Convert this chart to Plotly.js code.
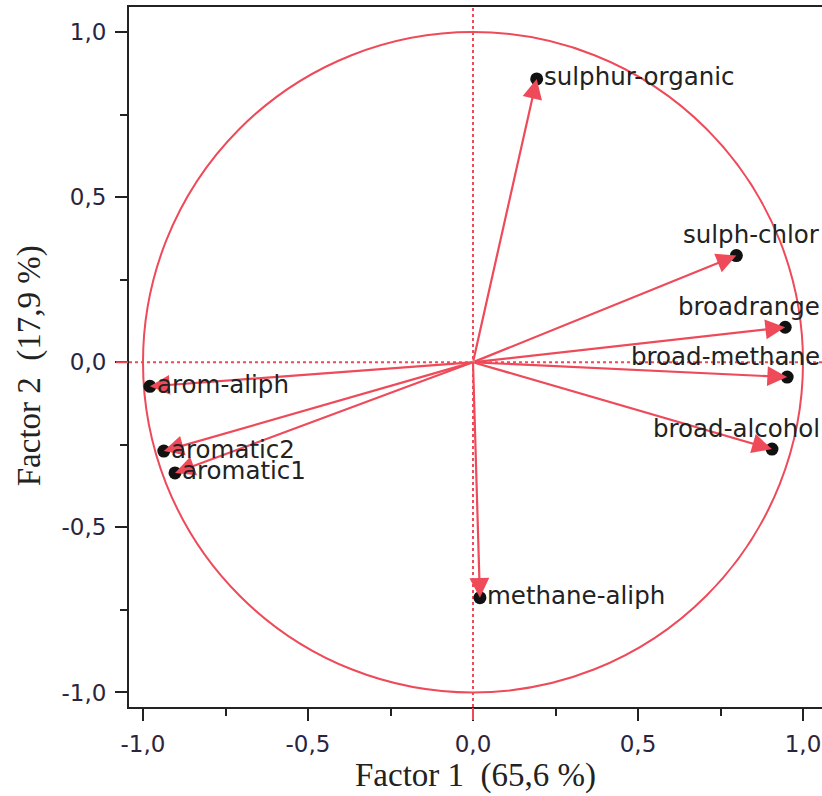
<!DOCTYPE html>
<html>
<head>
<meta charset="utf-8">
<script src="https://cdn.plot.ly/plotly-3.0.1.min.js"></script>
<style>
  html, body { margin: 0; padding: 0; background: #fff; }
  #chart { width: 822px; height: 796px; }
</style>
</head>
<body>
<div id="chart"></div>
<script>
// Correlation loadings of each variable on the first two factors
const variables = ['sulphur-organic', 'sulph-chlor', 'broadrange', 'broad-methane',
                   'broad-alcohol', 'methane-aliph', 'arom-aliph', 'aromatic2', 'aromatic1'];
const factor1 = [0.193, 0.798, 0.946, 0.952, 0.906, 0.021, -0.979, -0.937, -0.903];
const factor2 = [0.858, 0.323, 0.106, -0.045, -0.263, -0.713, -0.073, -0.269, -0.335];

const tickValues = [-1, -0.5, 0, 0.5, 1];
const tickLabels = ['-1,0', '-0,5', '0,0', '0,5', '1,0'];

const xTitle = 'Factor 1\u00a0\u00a0(65,6 %)';
const yTitle = 'Factor 2\u00a0\u00a0(17,9 %)';

// Labels close to the right frame are right-aligned to it and lifted above the point
const rightAligned = new Set(['sulph-chlor', 'broadrange', 'broad-methane', 'broad-alcohol']);

const RED = '#ee4a5a';
const INK = '#222';
const labelFont = { family: 'DejaVu Sans', size: 24.5, color: INK };
const tickFont = { family: 'DejaVu Sans', size: 23, color: '#2a2440' };
const titleFont = { family: 'Liberation Serif', size: 33, color: INK };

// Black dots at the loading positions
const dots = {
  type: 'scatter', mode: 'markers',
  x: factor1, y: factor2,
  marker: { color: '#111', size: 13 },
  hoverinfo: 'text', text: variables,
  cliponaxis: false, showlegend: false
};

// Arrows from the origin to each loading
const arrows = variables.map((name, i) => ({
  x: factor1[i], y: factor2[i], xref: 'x', yref: 'y',
  ax: 0, ay: 0, axref: 'x', ayref: 'y',
  text: '', showarrow: true,
  arrowhead: 2, arrowsize: 1.8, arrowwidth: 2.2, arrowcolor: RED,
  standoff: 0, startstandoff: 0
}));

// Variable names
const labels = variables.map((name, i) => rightAligned.has(name)
  ? { text: name, xref: 'paper', x: 1, xanchor: 'right', yref: 'y', y: factor2[i],
      yanchor: 'middle', yshift: 21, showarrow: false, font: labelFont }
  : { text: name, xref: 'x', x: factor1[i], xanchor: 'left', xshift: 5, yref: 'y',
      y: factor2[i], yanchor: 'middle', yshift: 2, showarrow: false, font: labelFont });

// Vertical axis title, centred a little below the middle of the frame
const yTitleNote = {
  text: yTitle, textangle: -90, font: titleFont, showarrow: false,
  xref: 'paper', x: 0, xanchor: 'center', xshift: -100,
  yref: 'paper', y: (706.5 - 366) / 699.5, yanchor: 'middle'
};

const shapes = [
  // unit circle
  { type: 'circle', xref: 'x', yref: 'y', x0: -1, x1: 1, y0: -1, y1: 1,
    line: { color: RED, width: 2 }, layer: 'below' },
  // dotted axes through the origin
  { type: 'line', xref: 'x', yref: 'paper', x0: 0, x1: 0, y0: 0, y1: 1,
    line: { color: RED, width: 2, dash: 'dot' }, layer: 'below' },
  { type: 'line', xref: 'paper', yref: 'y', x0: 0, x1: 1, y0: 0, y1: 0,
    line: { color: RED, width: 2, dash: 'dot' }, layer: 'below' },
  // red zero ticks
  { type: 'line', xref: 'x', yref: 'paper', ysizemode: 'pixel', yanchor: 0,
    x0: 0, x1: 0, y0: -1, y1: -13, line: { color: RED, width: 2 } },
  { type: 'line', xref: 'paper', yref: 'y', xsizemode: 'pixel', xanchor: 0,
    y0: 0, y1: 0, x0: -1, x1: -13, line: { color: RED, width: 2 } }
];

const axisCommon = {
  tickmode: 'array', tickvals: tickValues, ticktext: tickLabels,
  ticks: 'outside', ticklen: 12, tickwidth: 2, tickcolor: INK,
  tickfont: tickFont,
  showline: true, linecolor: INK, linewidth: 2,
  showgrid: false, zeroline: false,
  minor: { tickmode: 'linear', tick0: 0, dtick: 0.25, ticks: 'outside',
           ticklen: 7, tickwidth: 2, tickcolor: INK, showgrid: false }
};

const layout = {
  width: 822, height: 796,
  margin: { l: 129, r: 0, t: 7, b: 89 },
  paper_bgcolor: '#fff', plot_bgcolor: '#fff',
  showlegend: false,
  xaxis: Object.assign({}, axisCommon, {
    range: [-(473 - 129) / 330, (822 - 473) / 330],
    mirror: true, ticklabelstandoff: 3,
    title: { text: xTitle, font: titleFont, standoff: 0 }
  }),
  yaxis: Object.assign({}, axisCommon, {
    range: [-(706.5 - 362) / 330, (362 - 7) / 330],
    ticklabelstandoff: 4
  }),
  shapes: shapes,
  annotations: arrows.concat(labels, [yTitleNote])
};

Plotly.newPlot('chart', [dots], layout, { staticPlot: true, displayModeBar: false });
</script>
</body>
</html>
